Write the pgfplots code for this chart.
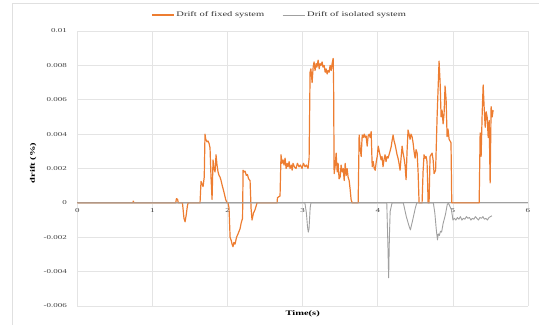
\documentclass[border=0pt]{standalone}
\usepackage{fontspec}
\setmainfont{Liberation Serif}[FakeStretch=1.5]
\usepackage{pgfplots}
\usepackage{pgfplotstable}
\pgfplotsset{compat=1.18}

\definecolor{fixedc}{HTML}{ED7D31}
\definecolor{isoc}{HTML}{A0A0A0}
\definecolor{gridc}{HTML}{E4E4E4}
\definecolor{framec}{HTML}{E0E0E0}

% drift of the fixed-base system
\pgfplotstableread{
t v
0 0
0.740 0
0.745 0.0001
0.755 0
1.310 0
1.320 0.00025
1.335 0.0002
1.345 0
1.400 0
1.420 -0.0009
1.435 -0.0011
1.450 -0.0007
1.465 -0.0002
1.475 0
1.634 0
1.647 0.00125
1.660 0.0011
1.674 0.00095
1.690 0.0015
1.700 0.0040
1.710 0.0037
1.727 0.00355
1.740 0.0036
1.755 0.00345
1.767 0.0032
1.780 0.0015
1.794 0.0002
1.807 0.0025
1.820 0.0020
1.834 0.0018
1.847 0.0028
1.860 0.0022
1.874 0.0018
1.887 0.0016
1.900 0.0015
1.914 0.0013
1.930 0.0010
1.954 0.0006
1.975 0.0002
1.994 0
2.007 0
2.020 -0.0003
2.034 -0.0020
2.050 -0.0022
2.060 -0.0024
2.073 -0.00255
2.085 -0.0023
2.100 -0.0024
2.120 -0.0020
2.140 -0.0018
2.167 -0.0015
2.180 -0.0012
2.193 -0.0010
2.200 -0.0009
2.207 0.0019
2.220 0.0018
2.233 0.00185
2.250 0.0016
2.265 0.00165
2.280 0.0014
2.300 0.0013
2.313 -0.0003
2.326 -0.0010
2.345 -0.0006
2.366 -0.0004
2.393 0
2.659 0
2.665 0.0003
2.680 0.00035
2.699 0.0004
2.712 0.0028
2.725 0.0023
2.739 0.0025
2.752 0.0022
2.766 0.0026
2.780 0.0020
2.793 0.0023
2.806 0.0021
2.820 0.0024
2.832 0.0020
2.850 0.0022
2.860 0.0019
2.872 0.0023
2.890 0.0021
2.912 0.0020
2.930 0.0023
2.952 0.0021
2.970 0.0022
2.992 0.0020
3.010 0.0023
3.032 0.0021
3.050 0.0022
3.072 0.0020
3.086 0.0026
3.099 0.0076
3.110 0.0078
3.126 0.0070
3.140 0.0079
3.152 0.0082
3.165 0.0077
3.179 0.0081
3.190 0.0079
3.206 0.0083
3.220 0.0078
3.232 0.0081
3.245 0.0080
3.259 0.0082
3.270 0.0079
3.286 0.0080
3.300 0.0076
3.312 0.0078
3.326 0.0075
3.339 0.0077
3.352 0.0076
3.366 0.0080
3.380 0.0077
3.392 0.0081
3.406 0.0084
3.412 0.0070
3.419 0.0017
3.432 0.0021
3.446 0.0029
3.460 0.0018
3.472 0.0023
3.485 0.0014
3.499 0.0015
3.512 0.0022
3.526 0.0018
3.540 0.0020
3.553 0.0013
3.566 0.0023
3.580 0.0016
3.592 0.0020
3.605 0.0015
3.619 0.0013
3.632 0.0008
3.645 0.0002
3.659 0
3.739 0
3.752 0.00395
3.765 0.0032
3.779 0.0027
3.793 0.00395
3.805 0.0038
3.820 0.0040
3.832 0.0038
3.845 0.0039
3.859 0.0033
3.872 0.0039
3.886 0.0040
3.900 0.0038
3.912 0.00415
3.926 0.0021
3.940 0.0024
3.953 0.0020
3.966 0.0019
3.980 0.0024
3.993 0.0027
4.006 0.0033
4.020 0.0030
4.030 0.0028
4.045 0.0025
4.057 0.0027
4.070 0.0021
4.083 0.0025
4.097 0.0028
4.110 0.0024
4.123 0.0027
4.137 0.0026
4.150 0.0028
4.163 0.0030
4.180 0.0033
4.190 0.0036
4.204 0.00395
4.217 0.0036
4.230 0.0034
4.244 0.0031
4.257 0.0028
4.270 0.0026
4.283 0.0023
4.297 0.0019
4.310 0.0026
4.324 0.0033
4.337 0.0029
4.350 0.0026
4.363 0.0022
4.377 0.00135
4.390 0.0030
4.403 0.00424
4.417 0.0040
4.430 0.0037
4.443 0.0040
4.457 0.00385
4.470 0.0035
4.483 0.0030
4.497 0.0026
4.510 0.0031
4.524 0.0029
4.537 0.0018
4.550 0
4.590 0
4.603 0.0018
4.616 0.0028
4.630 0.0026
4.643 0.0027
4.656 0.0024
4.665 0.0010
4.670 0
4.683 0
4.696 0.0027
4.710 0.0028
4.723 0.0029
4.737 0.0025
4.750 0.0017
4.770 0.0019
4.790 0.0050
4.816 0.00825
4.830 0.0070
4.843 0.0050
4.856 0.0054
4.870 0.0046
4.883 0.0052
4.896 0.0068
4.910 0.0060
4.923 0.00385
4.935 0.0043
4.950 0.0037
4.975 0.0035
4.985 0
5.350 0
5.363 0.00407
5.376 0.0027
5.390 0.0052
5.403 0.00686
5.416 0.0056
5.430 0.0044
5.443 0.0053
5.456 0.0050
5.470 0.0038
5.483 0.0048
5.496 0.00116
5.509 0.0056
5.523 0.0050
5.536 0.0054
}\fixeddata

% drift of the base-isolated system
\pgfplotstableread{
t v
0 0
3.030 0
3.050 -0.0006
3.065 -0.0014
3.075 -0.0017
3.085 -0.0015
3.100 -0.0003
3.110 0
4.120 0
4.135 -0.0025
4.145 -0.00436
4.155 -0.0020
4.165 -0.0005
4.190 0
4.340 0
4.380 -0.0008
4.420 -0.0014
4.435 -0.00157
4.470 -0.0009
4.500 -0.0003
4.520 0
4.740 0
4.760 -0.0006
4.780 -0.0016
4.795 -0.00215
4.805 -0.0018
4.820 -0.0019
4.835 -0.00165
4.850 -0.0017
4.870 -0.0012
4.900 -0.0007
4.925 -0.0001
4.940 0
4.970 -0.0003
4.980 -0.0004
4.995 -0.0008
5.000 -0.0010
5.020 -0.0009
5.040 -0.0010
5.060 -0.00085
5.080 -0.00095
5.100 -0.0008
5.120 -0.0010
5.140 -0.0009
5.160 -0.00095
5.180 -0.0008
5.200 -0.0009
5.220 -0.00085
5.240 -0.0010
5.260 -0.0009
5.280 -0.00095
5.300 -0.0008
5.320 -0.0009
5.340 -0.0010
5.360 -0.00085
5.380 -0.0009
5.400 -0.0008
5.420 -0.00095
5.440 -0.0009
5.460 -0.0010
5.480 -0.00085
5.500 -0.0008
5.520 -0.00075
}\isodata

\begin{document}
\begin{tikzpicture}
\useasboundingbox (0pt,0pt) rectangle (539pt,325pt);
\draw[framec, line width=1pt] (539pt,322pt) -- (12pt,322pt) -- (12pt,0pt);
\begin{axis}[
  at={(77.3pt,19pt)}, anchor=south west,
  scale only axis, width=450.7pt, height=275pt,
  xmin=0, xmax=6, ymin=-0.006, ymax=0.01,
  axis x line=middle, axis y line=left,
  hide obscured x ticks=false,
  scaled y ticks=false, scaled x ticks=false,
  x axis line style={-, draw=isoc, line width=0.8pt},
  y axis line style={draw=none},
  xtick={0,1,2,3,4,5,6},
  xticklabels={0,1,2,3,4,5,6},
  ytick={-0.006,-0.004,-0.002,0,0.002,0.004,0.006,0.008,0.01},
  yticklabels={-0.006,-0.004,-0.002,0,0.002,0.004,0.006,0.008,0.01},
  major tick length=0pt,
  grid=major,
  major grid style={gridc, line width=0.6pt},
  tick label style={font=\fontsize{6}{7}\selectfont, text=black!75},
  xticklabel style={yshift=-2.5pt},
  yticklabel style={xshift=-7pt},
  xlabel={\textbf{Time(s)}},
  ylabel={\textbf{drift (\%)}},
  xlabel style={at={(axis description cs:0.5,0)}, anchor=north, yshift=-1pt, font=\fontsize{7}{8}\selectfont},
  ylabel style={at={(axis description cs:-0.098,0.52)}, anchor=center, rotate=0, font=\fontsize{7}{8}\selectfont},
  legend columns=2,
  legend style={at={(axis description cs:0.449,1.058)}, anchor=center,
    draw=none, fill=none, font=\fontsize{7}{8}\selectfont, text=black!80,
    /tikz/every even column/.append style={column sep=16pt}},
  legend image code/.code={\draw[#1] (0pt,0pt) -- (22pt,0pt);},
]
\addplot[fixedc, line width=1.2pt, line join=round] table[x=t, y=v] {\fixeddata};
\addlegendentry{Drift of fixed system}
\addplot[isoc, line width=0.9pt, line join=round] table[x=t, y=v] {\isodata};
\addlegendentry{Drift of isolated system}
\end{axis}
\end{tikzpicture}
\end{document}
